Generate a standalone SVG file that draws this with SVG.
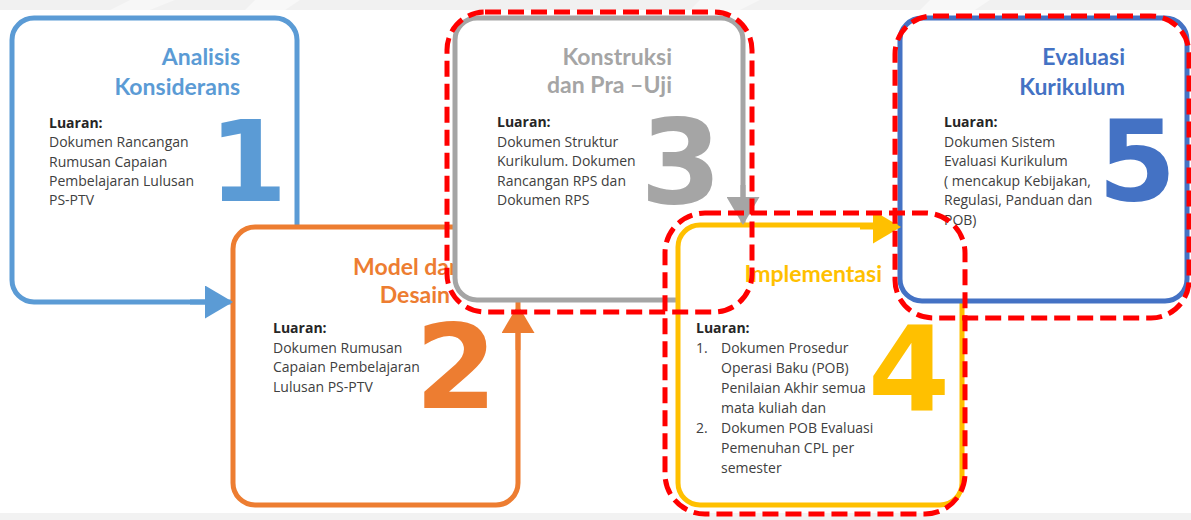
<svg xmlns="http://www.w3.org/2000/svg" width="1191" height="520" viewBox="0 0 1191 520">
<style>
.box{fill:#ffffff;stroke-width:5}
.title{font-family:Lato,"Open Sans",sans-serif;font-weight:bold;font-size:23px;text-anchor:end}
.body{font-family:"Open Sans","Liberation Sans",sans-serif;font-size:14px;fill:#404040}
.lbl{font-weight:bold;fill:#262626}
.num{font-family:"DejaVu Sans",sans-serif;font-weight:bold;text-anchor:middle}
.hl{fill:none;stroke:#ff0000;stroke-width:5;stroke-dasharray:16 7}
.conn{fill:none;stroke-width:5}
</style>
<defs>
<marker id="ahBlue" viewBox="0 0 28 33" refX="0" refY="16.5" markerWidth="28" markerHeight="33" markerUnits="userSpaceOnUse" orient="auto"><path d="M0,0 L28,16.5 L0,33 Z" fill="#5b9bd5"/></marker>
<marker id="ahOrange" viewBox="0 0 28 33" refX="0" refY="16.5" markerWidth="28" markerHeight="33" markerUnits="userSpaceOnUse" orient="auto"><path d="M0,0 L28,16.5 L0,33 Z" fill="#ed7d31"/></marker>
<marker id="ahGray" viewBox="0 0 28 33" refX="0" refY="16.5" markerWidth="28" markerHeight="33" markerUnits="userSpaceOnUse" orient="auto"><path d="M0,0 L28,16.5 L0,33 Z" fill="#a5a5a5"/></marker>
<marker id="ahYellow" viewBox="0 0 28 33" refX="0" refY="16.5" markerWidth="28" markerHeight="33" markerUnits="userSpaceOnUse" orient="auto"><path d="M0,0 L28,16.5 L0,33 Z" fill="#ffc000"/></marker>
</defs>
<rect x="0" y="0" width="1191" height="520" fill="#ffffff"/>
<rect x="0" y="0" width="1191" height="10" fill="#f1f1f1"/>
<polygon points="130,0 175,0 150,10 110,10" fill="#f7f7f7"/>
<polygon points="255,0 300,0 285,10 245,10" fill="#f8f8f8"/>
<polygon points="700,0 760,0 740,10 690,10" fill="#f7f7f7"/>
<polygon points="930,0 990,0 975,10 920,10" fill="#f8f8f8"/>
<rect x="0" y="513" width="1191" height="7" fill="#f2f2f2"/>

<g id="node1">
<rect class="box" x="12" y="18" width="285" height="284" rx="22" stroke="#5b9bd5"/>
<text class="title" fill="#5b9bd5"><tspan x="240" y="65">Analisis</tspan><tspan x="240" y="95">Konsiderans</tspan></text>
<text class="num" x="248" y="201" font-size="113" fill="#5b9bd5">1</text>
<text class="body"><tspan class="lbl" x="49" y="128">Luaran:</tspan><tspan x="49" y="147.3">Dokumen Rancangan</tspan><tspan x="49" y="166.6">Rumusan Capaian</tspan><tspan x="49" y="185.9">Pembelajaran Lulusan</tspan><tspan x="49" y="205.2">PS-PTV</tspan></text>
</g>

<g id="node2">
<rect class="box" x="233" y="227" width="285" height="278" rx="22" stroke="#ed7d31"/>
<text class="title" fill="#ed7d31"><tspan x="462" y="275">Model dan</tspan><tspan x="450" y="303">Desain</tspan></text>
<text class="num" x="456" y="408" font-size="118" fill="#ed7d31">2</text>
<text class="body"><tspan class="lbl" x="273" y="333">Luaran:</tspan><tspan x="273" y="352.5">Dokumen Rumusan</tspan><tspan x="273" y="372">Capaian Pembelajaran</tspan><tspan x="273" y="391.5">Lulusan PS-PTV</tspan></text>
</g>

<g id="node3">
<rect class="box" x="455" y="18" width="288" height="282" rx="22" stroke="#a5a5a5"/>
<text class="title" fill="#a5a5a5"><tspan x="672" y="65">Konstruksi</tspan><tspan x="672" y="93">dan Pra –Uji</tspan></text>
<text class="num" x="681" y="203" font-size="117" fill="#a5a5a5">3</text>
<text class="body"><tspan class="lbl" x="497" y="127">Luaran:</tspan><tspan x="497" y="146.5">Dokumen Struktur</tspan><tspan x="497" y="166">Kurikulum. Dokumen</tspan><tspan x="497" y="185.5">Rancangan RPS dan</tspan><tspan x="497" y="205">Dokumen RPS</tspan></text>
</g>

<g id="node4">
<rect class="box" x="678" y="225" width="284" height="280" rx="22" stroke="#ffc000"/>
<text class="title" fill="#ffc000" x="882" y="282">Implementasi</text>
<text class="num" x="909" y="411" font-size="118" fill="#ffc000">4</text>
<text class="body"><tspan class="lbl" x="696" y="333">Luaran:</tspan><tspan x="696" y="353">1.</tspan><tspan x="721" y="353">Dokumen Prosedur</tspan><tspan x="721" y="373">Operasi Baku (POB)</tspan><tspan x="721" y="393">Penilaian Akhir semua</tspan><tspan x="721" y="413">mata kuliah dan</tspan><tspan x="696" y="433">2.</tspan><tspan x="721" y="433">Dokumen POB Evaluasi</tspan><tspan x="721" y="453">Pemenuhan CPL per</tspan><tspan x="721" y="473">semester</tspan></text>
</g>

<g id="node5">
<rect class="box" x="900" y="18" width="287" height="283" rx="22" stroke="#4472c4"/>
<text class="title" fill="#4472c4"><tspan x="1125" y="65">Evaluasi</tspan><tspan x="1125" y="95">Kurikulum</tspan></text>
<text class="num" x="1137" y="200" font-size="113" fill="#4472c4">5</text>
<text class="body"><tspan class="lbl" x="944" y="127">Luaran:</tspan><tspan x="944" y="146.5">Dokumen Sistem</tspan><tspan x="944" y="166">Evaluasi Kurikulum</tspan><tspan x="944" y="185.5">( mencakup Kebijakan,</tspan><tspan x="944" y="205">Regulasi, Panduan dan</tspan><tspan x="944" y="224.5">POB)</tspan></text>
</g>

<g id="connectors">
<path class="conn" d="M190,302 L205,302" stroke="#5b9bd5" marker-end="url(#ahBlue)"/>
<path class="conn" d="M518,350 L518,333" stroke="#ed7d31" marker-end="url(#ahOrange)"/>
<path class="conn" d="M743,185 L743,197" stroke="#a5a5a5" marker-end="url(#ahGray)"/>
<path class="conn" d="M860,227 L873,227" stroke="#ffc000" marker-end="url(#ahYellow)"/>
</g>

<g id="highlights">
<rect class="hl" x="447" y="12" width="305" height="300" rx="38"/>
<rect class="hl" x="665" y="213" width="300" height="301" rx="40"/>
<rect class="hl" x="895" y="16" width="294" height="302" rx="38"/>
</g>
</svg>
